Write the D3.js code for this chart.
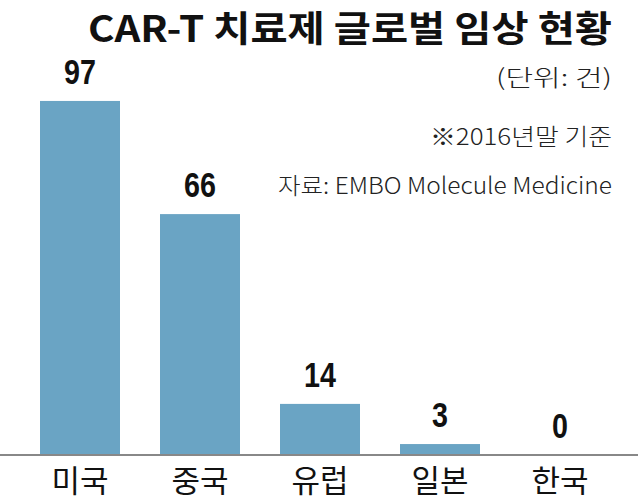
<!DOCTYPE html>
<html><head><meta charset="utf-8">
<script src="https://cdn.jsdelivr.net/npm/d3@7"></script>
<style>body{margin:0;background:#fff;} svg{display:block;}</style>
</head><body>
<script>
const categories = ["미국","중국","유럽","일본","한국"];
const values = [97,66,14,3,0];
const title = "CAR-T 치료제 글로벌 임상 현황";
const notes = ["(단위: 건)","※2016년말 기준","자료: EMBO Molecule Medicine"];

const W=638,H=500;
const svg=d3.select("body").append("svg").attr("width",W).attr("height",H);
const kfont="'Noto Sans CJK KR',sans-serif";
const x=d3.scaleBand().domain(categories).range([20,620]).paddingInner(1/3).paddingOuter(1/6);
const y=d3.scaleLinear().domain([0,100]).range([455,90]);

svg.append("text").attr("x",612).attr("y",42).attr("text-anchor","end")
  .attr("font-family",kfont).attr("font-weight","bold").attr("font-size",36)
  .attr("textLength",524).attr("lengthAdjust","spacingAndGlyphs").attr("fill","#111").text(title);

const noteY=[86,145,194], noteW=[116,182,334];
notes.forEach((n,i)=>{
  svg.append("text").attr("x",612).attr("y",noteY[i]).attr("text-anchor","end")
   .attr("font-family",kfont).attr("font-weight",300).attr("font-size",23)
   .attr("textLength",noteW[i]).attr("lengthAdjust","spacingAndGlyphs").attr("fill","#222").text(n);
});

svg.selectAll("rect.bar").data(values).enter().append("rect").attr("class","bar")
  .attr("x",(d,i)=>x(categories[i])).attr("width",x.bandwidth())
  .attr("y",d=>y(d)).attr("height",d=>y(0)-y(d)).attr("fill","#6aa4c4");

svg.selectAll("text.val").data(values).enter().append("text").attr("class","val")
  .attr("transform",(d,i)=>`translate(${x(categories[i])+x.bandwidth()/2},${y(d)-17}) scale(0.82,1)`)
  .attr("text-anchor","middle").attr("font-family","'Liberation Sans',Arial,sans-serif").attr("font-weight","bold")
  .attr("font-size",35).attr("fill","#111").text(d=>d);

const axis=d3.axisBottom(x).tickSize(0).tickPadding(0);
const g=svg.append("g").attr("transform","translate(0,455)").call(axis);
g.select(".domain").remove();
g.append("line").attr("x1",0).attr("x2",W).attr("y1",0).attr("y2",0).attr("stroke","#888").attr("stroke-width",2);
g.selectAll(".tick text").attr("font-family",kfont).attr("font-size",31).attr("fill","#111")
  .attr("y",37).attr("dy",0);
</script>
</body></html>
